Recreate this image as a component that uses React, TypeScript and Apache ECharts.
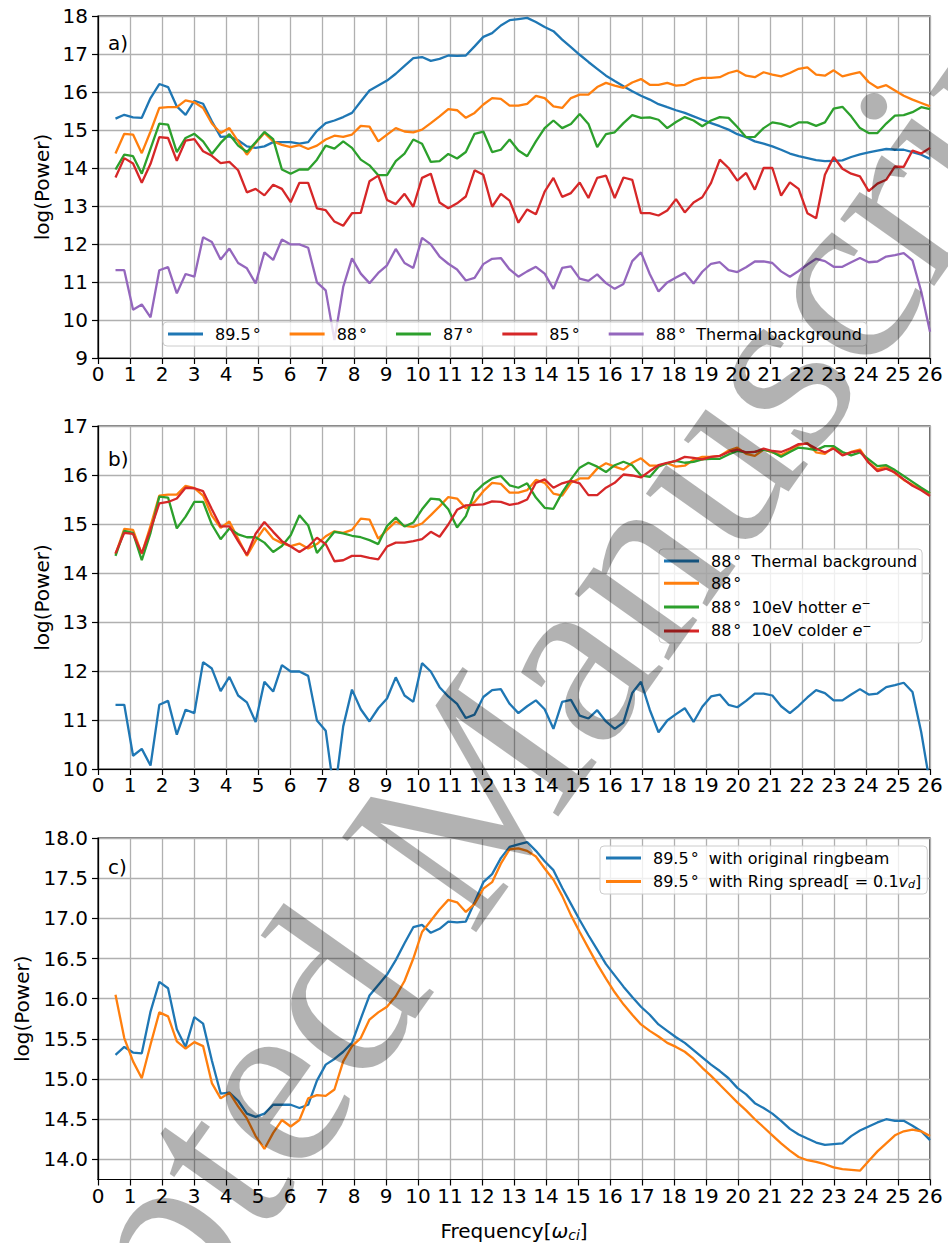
import React, { useEffect, useRef } from 'react';
import * as echarts from 'echarts';

// Frequency grid (units of ion cyclotron frequency)
const frequency = [
  0.547, 0.821, 1.095, 1.368, 1.642, 1.916, 2.189, 2.463, 2.737, 3.011,
  3.284, 3.558, 3.832, 4.105, 4.379, 4.653, 4.926, 5.2, 5.474, 5.747,
  6.021, 6.295, 6.568, 6.842, 7.116, 7.389, 7.663, 7.937, 8.211, 8.484,
  8.758, 9.032, 9.305, 9.579, 9.853, 10.126, 10.4, 10.674, 10.947, 11.221,
  11.495, 11.768, 12.042, 12.316, 12.589, 12.863, 13.137, 13.411, 13.684, 13.958,
  14.232, 14.505, 14.779, 15.053, 15.326, 15.6, 15.874, 16.147, 16.421, 16.695,
  16.968, 17.242, 17.516, 17.789, 18.063, 18.337, 18.611, 18.884, 19.158, 19.432,
  19.705, 19.979, 20.253, 20.526, 20.8, 21.074, 21.347, 21.621, 21.895, 22.168,
  22.442, 22.716, 22.989, 23.263, 23.537, 23.811, 24.084, 24.358, 24.632, 24.905,
  25.179, 25.453, 25.726, 26.0,
];

const power895 = [
  15.30, 15.40, 15.33, 15.32, 15.84, 16.21, 16.13, 15.62, 15.40, 15.77,
  15.69, 15.23, 14.82, 14.83, 14.73, 14.57, 14.53, 14.57, 14.68, 14.68,
  14.68, 14.64, 14.68, 14.98, 15.18, 15.25, 15.34, 15.45, 15.75, 16.04,
  16.17, 16.30, 16.48, 16.69, 16.89, 16.92, 16.82, 16.87, 16.96, 16.95,
  16.96, 17.20, 17.45, 17.55, 17.75, 17.89, 17.92, 17.95, 17.84, 17.71,
  17.60, 17.38, 17.18, 16.98, 16.79, 16.61, 16.43, 16.29, 16.15, 16.02,
  15.90, 15.80, 15.68, 15.60, 15.52, 15.45, 15.36, 15.27, 15.18, 15.10,
  15.01, 14.89, 14.81, 14.70, 14.64, 14.57, 14.48, 14.38, 14.31, 14.26,
  14.21, 14.18, 14.19, 14.20, 14.29, 14.36, 14.41, 14.46, 14.50, 14.48,
  14.48, 14.42, 14.35, 14.24,
];

const power88 = [
  14.38, 14.90, 14.88, 14.39, 14.96, 15.58, 15.60, 15.60, 15.78, 15.73,
  15.58, 15.17, 14.92, 15.05, 14.70, 14.35, 14.66, 14.92, 14.70, 14.61,
  14.55, 14.60, 14.50, 14.59, 14.75, 14.85, 14.82, 14.88, 15.11, 15.09,
  14.70, 14.88, 15.05, 14.96, 14.94, 15.01, 15.18, 15.36, 15.55, 15.52,
  15.32, 15.45, 15.67, 15.84, 15.82, 15.64, 15.64, 15.69, 15.90, 15.84,
  15.62, 15.58, 15.84, 15.93, 15.93, 16.13, 16.24, 16.17, 16.11, 16.25,
  16.34, 16.19, 16.19, 16.24, 16.17, 16.19, 16.31, 16.37, 16.37, 16.39,
  16.50, 16.56, 16.43, 16.39, 16.52, 16.46, 16.41, 16.50, 16.61, 16.65,
  16.46, 16.43, 16.57, 16.41, 16.47, 16.52, 16.26, 16.11, 16.18, 16.04,
  15.90, 15.80, 15.71, 15.62,
];

const power87 = [
  13.96, 14.35, 14.31, 13.85, 14.51, 15.17, 15.14, 14.42, 14.79, 14.90,
  14.70, 14.37, 14.66, 14.89, 14.59, 14.42, 14.68, 14.95, 14.76, 13.96,
  13.85, 13.96, 13.96, 14.22, 14.59, 14.51, 14.70, 14.53, 14.22, 14.07,
  13.81, 13.81, 14.18, 14.38, 14.75, 14.64, 14.16, 14.18, 14.37, 14.25,
  14.42, 14.90, 14.96, 14.42, 14.48, 14.75, 14.46, 14.31, 14.70, 15.05,
  15.25, 15.05, 15.16, 15.42, 15.16, 14.55, 14.89, 14.94, 15.18, 15.39,
  15.32, 15.33, 15.27, 15.05, 15.21, 15.34, 15.25, 15.10, 15.25, 15.34,
  15.32, 15.08, 14.81, 14.82, 15.05, 15.20, 15.16, 15.08, 15.20, 15.20,
  15.11, 15.20, 15.56, 15.61, 15.36, 15.05, 14.92, 14.92, 15.17, 15.38,
  15.39, 15.47, 15.60, 15.55,
];

const power85 = [
  13.75, 14.26, 14.12, 13.61, 14.11, 14.81, 14.79, 14.19, 14.72, 14.76,
  14.44, 14.32, 14.13, 14.16, 13.94, 13.36, 13.45, 13.28, 13.56, 13.45,
  13.10, 13.61, 13.61, 12.94, 12.89, 12.59, 12.48, 12.81, 12.82, 13.65,
  13.80, 13.16, 13.05, 13.32, 12.98, 13.74, 13.85, 13.09, 12.94, 13.07,
  13.25, 13.94, 13.82, 12.98, 13.32, 13.14, 12.56, 12.91, 12.78, 13.38,
  13.74, 13.24, 13.34, 13.62, 13.21, 13.74, 13.80, 13.21, 13.75, 13.69,
  12.81, 12.81, 12.75, 12.88, 13.18, 12.83, 13.09, 13.23, 13.61, 14.22,
  14.00, 13.67, 13.87, 13.43, 14.00, 14.00, 13.27, 13.62, 13.45, 12.81,
  12.68, 13.82, 14.29, 13.98, 13.85, 13.78, 13.39, 13.59, 13.69, 14.04,
  14.03, 14.46, 14.38, 14.53,
];

const thermal88 = [
  11.31, 11.31, 10.27, 10.41, 10.07, 11.31, 11.39, 10.70, 11.21, 11.14,
  12.18, 12.05, 11.59, 11.88, 11.50, 11.36, 10.96, 11.78, 11.58, 12.12,
  11.99, 11.99, 11.90, 10.99, 10.78, 9.47, 10.87, 11.62, 11.22, 10.97,
  11.24, 11.44, 11.87, 11.50, 11.37, 12.16, 11.99, 11.67, 11.48, 11.33,
  11.04, 11.11, 11.47, 11.61, 11.63, 11.33, 11.14, 11.28, 11.40, 11.22,
  10.82, 11.37, 11.41, 11.09, 11.03, 11.20, 10.97, 10.82, 10.95, 11.55,
  11.78, 11.21, 10.75, 10.99, 11.12, 11.24, 10.96, 11.27, 11.48, 11.52,
  11.31, 11.26, 11.39, 11.54, 11.54, 11.50, 11.28, 11.14, 11.29, 11.46,
  11.61, 11.55, 11.40, 11.40, 11.52, 11.63, 11.52, 11.54, 11.67, 11.71,
  11.76, 11.57, 10.75, 9.69,
];

const hotter88 = [
  14.35, 14.86, 14.82, 14.26, 14.82, 15.56, 15.54, 14.91, 15.15, 15.45,
  15.45, 14.99, 14.69, 14.91, 14.79, 14.73, 14.73, 14.62, 14.43, 14.55,
  14.77, 15.18, 14.97, 14.41, 14.62, 14.84, 14.81, 14.76, 14.73, 14.67,
  14.59, 14.96, 15.13, 14.95, 15.03, 15.30, 15.52, 15.50, 15.30, 14.93,
  15.16, 15.64, 15.81, 15.93, 15.98, 15.79, 15.74, 15.83, 15.54, 15.33,
  15.31, 15.64, 15.91, 16.15, 16.25, 16.17, 16.06, 16.20, 16.27, 16.20,
  15.99, 15.96, 16.17, 16.24, 16.29, 16.25, 16.27, 16.32, 16.33, 16.33,
  16.42, 16.49, 16.46, 16.47, 16.52, 16.47, 16.37, 16.47, 16.56, 16.54,
  16.51, 16.59, 16.59, 16.47, 16.40, 16.46, 16.32, 16.18, 16.20, 16.10,
  15.98, 15.86, 15.74, 15.63,
];

const colder88 = [
  14.40, 14.82, 14.80, 14.40, 14.89, 15.42, 15.45, 15.52, 15.74, 15.73,
  15.67, 15.30, 14.95, 14.95, 14.65, 14.37, 14.80, 15.04, 14.84, 14.65,
  14.54, 14.43, 14.54, 14.72, 14.59, 14.24, 14.26, 14.35, 14.35, 14.31,
  14.28, 14.54, 14.62, 14.62, 14.65, 14.69, 14.84, 14.74, 14.99, 15.29,
  15.38, 15.39, 15.40, 15.46, 15.45, 15.39, 15.42, 15.50, 15.84, 15.91,
  15.74, 15.83, 15.88, 15.83, 15.59, 15.59, 15.74, 15.84, 16.01, 15.99,
  15.95, 16.08, 16.20, 16.25, 16.29, 16.37, 16.35, 16.32, 16.37, 16.39,
  16.47, 16.52, 16.46, 16.47, 16.54, 16.49, 16.47, 16.54, 16.63, 16.64,
  16.54, 16.46, 16.54, 16.40, 16.46, 16.49, 16.25, 16.08, 16.13, 16.05,
  15.91, 15.78, 15.69, 15.57,
];

const ringSpread895 = [
  16.05, 15.51, 15.22, 15.01, 15.43, 15.83, 15.78, 15.47, 15.38, 15.46,
  15.41, 14.95, 14.76, 14.83, 14.66, 14.51, 14.29, 14.13, 14.33, 14.49,
  14.41, 14.49, 14.76, 14.80, 14.79, 14.87, 15.22, 15.41, 15.51, 15.74,
  15.83, 15.90, 16.03, 16.22, 16.50, 16.83, 16.97, 17.11, 17.23, 17.20,
  17.08, 17.18, 17.37, 17.45, 17.68, 17.86, 17.87, 17.84, 17.77, 17.62,
  17.48, 17.28, 17.04, 16.83, 16.63, 16.43, 16.25, 16.08, 15.93, 15.80,
  15.68, 15.60, 15.53, 15.45, 15.40, 15.34, 15.25, 15.14, 15.04, 14.93,
  14.82, 14.71, 14.61, 14.50, 14.40, 14.30, 14.20, 14.11, 14.03, 13.99,
  13.97, 13.94, 13.90, 13.88, 13.87, 13.86, 13.98, 14.10, 14.20, 14.30,
  14.35, 14.37, 14.35, 14.29,
];

const yTicksC = [14.0, 14.5, 15.0, 15.5, 16.0, 16.5, 17.0, 17.5, 18.0];

const C = {
  blue: '#1f77b4',
  orange: '#ff7f0e',
  green: '#2ca02c',
  red: '#d62728',
  purple: '#9467bd',
};

const FONT = 'DejaVu Sans';
const LEGEND_FS = 16;

const LABELS: Record<string, string> = {
  a89: '89.5{d|°}',
  a88: '88{d|°}',
  a87: '87{d|°}',
  a85: '85{d|°}',
  aTh: '88{d|°}  Thermal background',
  bTh: '88{d|°}  Thermal background',
  b88: '88{d|°}',
  bHot: '88{d|°}  10eV hotter {i|e}{sup|−}',
  bCold: '88{d|°}  10eV colder {i|e}{sup|−}',
  c89: '89.5{d|°}  with original ringbeam',
  cRing: '89.5{d|°}  with Ring spread[ = 0.1{i|v}{sub|d}]',
};

const pairs = (ys: number[]) => frequency.map((f, i) => [f, ys[i]]);

function lineSeries(name: string, ys: number[], color: string, idx: number) {
  return {
    type: 'line',
    name,
    xAxisIndex: idx,
    yAxisIndex: idx,
    data: pairs(ys),
    showSymbol: false,
    symbol: 'none',
    clip: true,
    lineStyle: { color, width: 2.3 },
    itemStyle: { color },
    emphasis: { disabled: true },
  };
}

function xAxis(gridIndex: number, withName: boolean) {
  return {
    type: 'value',
    gridIndex,
    min: 0,
    max: 26,
    interval: 1,
    axisLine: { show: true, onZero: false, lineStyle: { color: '#000', width: 1.2 } },
    axisTick: { show: true, length: 6, lineStyle: { color: '#000', width: 1.2 } },
    axisLabel: { color: '#000', fontSize: 20, fontFamily: FONT, margin: 6 },
    splitLine: { show: true, lineStyle: { color: '#b0b0b0', width: 1.3 } },
    name: withName ? 'Frequency[{i|ω}{sub|ci}]' : '',
    nameLocation: 'middle',
    nameGap: 40,
    nameTextStyle: {
      color: '#000',
      fontSize: 20,
      fontFamily: FONT,
      rich: {
        i: { fontSize: 20, fontFamily: FONT, fontStyle: 'italic', color: '#000' },
        sub: { fontSize: 14, fontFamily: FONT, fontStyle: 'italic', color: '#000', verticalAlign: 'bottom', padding: [8, 0, 0, 0] },
      },
    },
  };
}

function yAxis(gridIndex: number, extra: any, nameGap: number) {
  return {
    type: 'value',
    gridIndex,
    name: 'log(Power)',
    nameLocation: 'middle',
    nameGap,
    nameTextStyle: { color: '#000', fontSize: 20, fontFamily: FONT },
    axisLine: { show: true, onZero: false, lineStyle: { color: '#000', width: 1.2 } },
    axisTick: { show: true, length: 6, lineStyle: { color: '#000', width: 1.2 } },
    axisLabel: { color: '#000', fontSize: 20, fontFamily: FONT, margin: 10 },
    splitLine: { show: true, lineStyle: { color: '#b0b0b0', width: 1.3 } },
    ...extra,
  };
}

const legendRich = {
  d: { fontSize: LEGEND_FS, fontFamily: FONT, color: '#000', padding: [0, 0, 0, 2] },
  i: { fontSize: LEGEND_FS, fontFamily: FONT, fontStyle: 'italic', color: '#000' },
  sup: { fontSize: 11, fontFamily: FONT, color: '#000', verticalAlign: 'top', padding: [0, 0, 8, 0] },
  sub: { fontSize: 11, fontFamily: FONT, fontStyle: 'italic', color: '#000', verticalAlign: 'bottom', padding: [6, 0, 0, 0] },
};

function legend(names: string[], extra: any) {
  return {
    data: names,
    icon: 'rect',
    itemWidth: 35,
    itemHeight: 3,
    selectedMode: false,
    backgroundColor: 'rgba(255,255,255,0.8)',
    borderColor: '#cccccc',
    borderWidth: 1,
    borderRadius: 4,
    formatter: (n: string) => LABELS[n] || n,
    textStyle: {
      color: '#000',
      fontSize: LEGEND_FS,
      fontFamily: FONT,
      padding: [0, 0, 0, 7],
      rich: legendRich,
    },
    ...extra,
  };
}

export default function App() {
  const ref = useRef<HTMLDivElement>(null);

  useEffect(() => {
    if (!ref.current) return;
    const chart = echarts.init(ref.current, undefined, { renderer: 'svg' });
    const option: any = {
      animation: false,
      backgroundColor: '#ffffff',
      grid: [
        { left: 98, top: 16, width: 832, height: 342, show: true, borderColor: '#000', borderWidth: 1.2, backgroundColor: 'transparent' },
        { left: 98, top: 426, width: 832, height: 343, show: true, borderColor: '#000', borderWidth: 1.2, backgroundColor: 'transparent' },
        { left: 98, top: 838, width: 832, height: 341.5, show: true, borderColor: '#000', borderWidth: 1.2, backgroundColor: 'transparent' },
      ],
      xAxis: [xAxis(0, false), xAxis(1, false), xAxis(2, true)],
      yAxis: [
        yAxis(0, { min: 9, max: 18, interval: 1 }, 45),
        yAxis(1, { min: 10, max: 17, interval: 1 }, 45),
        yAxis(2, {
          min: 13.75,
          max: 18,
          axisLabel: {
            color: '#000', fontSize: 20, fontFamily: FONT, margin: 10,
            customValues: yTicksC,
            formatter: (v: number) => v.toFixed(1),
          },
          axisTick: { show: true, length: 6, lineStyle: { color: '#000', width: 1.2 }, customValues: yTicksC },
        }, 66),
      ],
      legend: [
        legend(['a89', 'a88', 'a87', 'a85', 'aTh'], {
          orient: 'horizontal', left: 163, top: 322, padding: [4, 5], itemGap: 29,
        }),
        legend(['bTh', 'b88', 'bHot', 'bCold'], {
          orient: 'vertical', left: 659, top: 549, padding: [4, 5], itemGap: 6.3,
        }),
        legend(['c89', 'cRing'], {
          orient: 'vertical', left: 600, top: 846, padding: [4, 6], itemGap: 7.5,
        }),
      ],
      series: [
        lineSeries('a89', power895, C.blue, 0),
        lineSeries('a88', power88, C.orange, 0),
        lineSeries('a87', power87, C.green, 0),
        lineSeries('a85', power85, C.red, 0),
        lineSeries('aTh', thermal88, C.purple, 0),
        lineSeries('bTh', thermal88, C.blue, 1),
        lineSeries('b88', power88, C.orange, 1),
        lineSeries('bHot', hotter88, C.green, 1),
        lineSeries('bCold', colder88, C.red, 1),
        lineSeries('c89', power895, C.blue, 2),
        lineSeries('cRing', ringSpread895, C.orange, 2),
      ],
      graphic: [
        { type: 'text', x: 108, y: 33, z: 10, silent: true, style: { text: 'a)', fontSize: 20, fontFamily: FONT, fill: '#000', verticalAlign: 'top' } },
        { type: 'text', x: 108, y: 449, z: 10, silent: true, style: { text: 'b)', fontSize: 20, fontFamily: FONT, fill: '#000', verticalAlign: 'top' } },
        { type: 'text', x: 108, y: 857, z: 10, silent: true, style: { text: 'c)', fontSize: 20, fontFamily: FONT, fill: '#000', verticalAlign: 'top' } },
        {
          type: 'text',
          x: 441,
          y: 835,
          rotation: (54.7 * Math.PI) / 180,
          z: 100,
          silent: true,
          style: {
            text: 'Accepted Manuscript',
            fontSize: 251,
            fontFamily: 'Liberation Serif',
            fill: 'rgba(0,0,0,0.3)',
            align: 'center',
            verticalAlign: 'middle',
          },
        },
      ],
    };
    chart.setOption(option);
    return () => {
      chart.dispose();
    };
  }, []);

  return (
    <div
      ref={ref}
      style={{ position: 'absolute', left: 0, top: 0, width: 948, height: 1243, background: '#fff' }}
    />
  );
}
